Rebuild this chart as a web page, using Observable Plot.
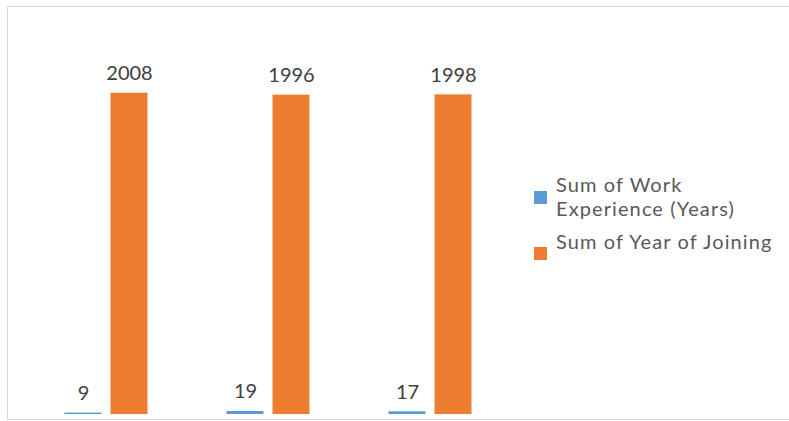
<!DOCTYPE html>
<html>
<head>
<meta charset="utf-8">
<script src="https://cdn.jsdelivr.net/npm/d3@7"></script>
<script src="https://cdn.jsdelivr.net/npm/@observablehq/plot@0.6"></script>
<style>
  html, body { margin: 0; padding: 0; background: #fff; }
  #wrap { position: relative; width: 789px; height: 421px; overflow: hidden; font-family: Lato, "Open Sans", sans-serif; }
  #frame { position: absolute; left: 7px; top: 6px; width: 820px; height: 414px; border: 1.5px solid #d9d9d9; box-sizing: border-box; }
  #chart { position: absolute; left: 0; top: 0; }
  #legend { position: absolute; left: 534px; top: 172px; }
  .item { position: absolute; left: 0; white-space: nowrap; }
  .sw { position: absolute; width: 13px; height: 13px; }
  .lab { position: absolute; left: 22px; font-size: 20px; letter-spacing: 1.1px; line-height: 24px; color: #595959; }
</style>
</head>
<body>
<div id="wrap">
  <div id="frame"></div>
  <div id="chart"></div>
  <div id="legend"></div>
</div>
<script>
const groups = ["A", "B", "C"];
const seriesNames = ["Sum of Work Experience (Years)", "Sum of Year of Joining"];
const legendLines = [["Sum of Work", "Experience (Years)"], ["Sum of Year of Joining"]];
const workExperience = [9, 19, 17];
const yearOfJoining = [2008, 1996, 1998];
const seriesColors = ["#5b9bd5", "#ed7d31"];

const rows = [];
groups.forEach((g, i) => {
  rows.push({group: g, series: seriesNames[0], value: workExperience[i]});
  rows.push({group: g, series: seriesNames[1], value: yearOfJoining[i]});
});

const chart = Plot.plot({
  width: 789,
  height: 421,
  marginLeft: 24.5,
  marginRight: 278.5,
  marginTop: 14,
  marginBottom: 7,
  style: {background: "transparent", fontFamily: "Lato, sans-serif"},
  facet: {data: rows, x: "group"},
  fx: {domain: groups, padding: 0, axis: null, label: null},
  x: {domain: seriesNames, paddingInner: 0.1957, paddingOuter: 0.8587, axis: null, label: null},
  y: {domain: [0, 2500], axis: null},
  color: {domain: seriesNames, range: seriesColors},
  marks: [
    Plot.barY(rows, {x: "series", y: "value", fill: "series"}),
    Plot.text(rows, {x: "series", y: "value", text: d => String(d.value), lineAnchor: "bottom", dy: -13, fontSize: 20, fill: "#404040"})
  ]
});
document.getElementById("chart").appendChild(chart);

const legend = document.getElementById("legend");
const entryTops = [0, 57];
const swatchTops = [19, 75];
seriesNames.forEach((s, i) => {
  const item = document.createElement("div");
  item.className = "item";
  item.style.top = entryTops[i] + "px";
  const sw = document.createElement("div");
  sw.className = "sw";
  sw.style.background = seriesColors[i];
  sw.style.top = (swatchTops[i] - entryTops[i]) + "px";
  const lab = document.createElement("div");
  lab.className = "lab";
  lab.innerHTML = legendLines[i].join("<br>");
  item.appendChild(sw);
  item.appendChild(lab);
  legend.appendChild(item);
});
</script>
</body>
</html>
